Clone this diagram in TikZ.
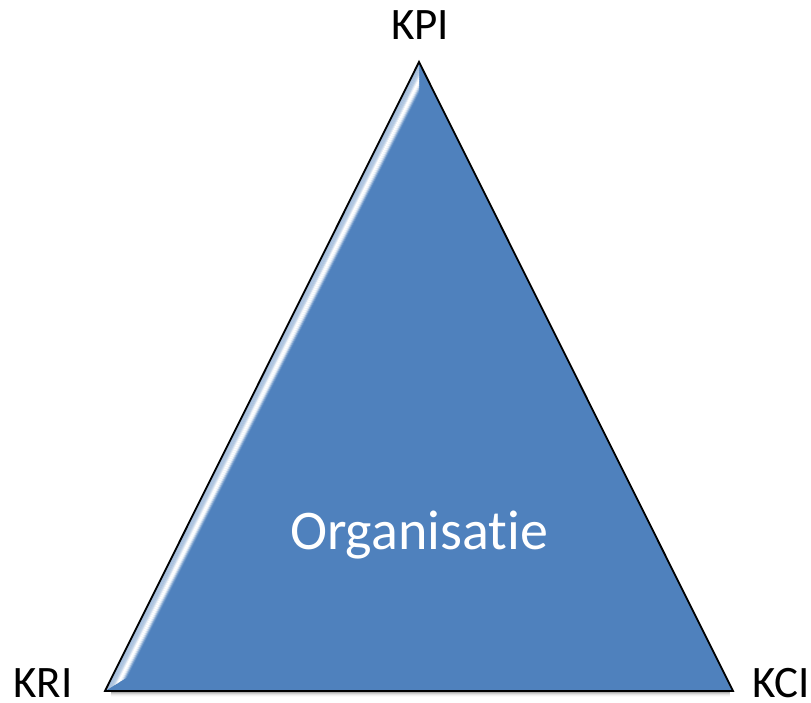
\documentclass[tikz,border=0pt]{standalone}
\usepackage{fontspec}
\setmainfont{Carlito}[Ligatures=NoCommon]
\usetikzlibrary{calc}
\definecolor{triblue}{HTML}{4F81BD}
\tikzset{
  lbl/.style={font=\fontsize{45}{50}\selectfont, text=black, inner sep=0pt, anchor=base},
  innerlbl/.style={font=\fontsize{56}{62}\selectfont, text=white, inner sep=0pt, anchor=base}
}
\begin{document}
\begin{tikzpicture}[x=1pt,y=1pt]
\useasboundingbox (0,0) rectangle (811,703);
% corners (y = 703 - pixel y)
\coordinate (A) at (419,641);
\coordinate (L) at (105,12);
\coordinate (R) at (733,12);
% inner bevel corners
\coordinate (Ai) at (419,610);
\coordinate (Li) at (127.6,26);
% shadow under the base
\foreach \o/\op in {1/0.22,2/0.15,3/0.10,4/0.06,5/0.035,6/0.02}{
  \fill[black, opacity=\op] ($(L)+(6,-\o)$) -- ($(R)+(-3,-\o)$) -- ($(R)+(-3,0)$) -- ($(L)+(6,0)$) -- cycle;
}
% triangle body
\fill[triblue] (A) -- (R) -- (L) -- cycle;
% bevel on the left face
\begin{scope}
  \clip (A) -- (Ai) -- (Li) -- (L) -- cycle;
  \foreach \t/\c in {0/60,1/55,2/50,3/45,4/45,5/40,6/30,7/12,8/0,9/0,10/5,11/22,12/50,13/78,14/95,15/100}{
    \draw[line width=1.3pt, triblue!\c!white] ($(A)!\t pt!90:(L)$) -- ($(L)!\t pt!-90:(A)$);
  }
\end{scope}
% outline
\draw[black, line width=1.8pt, line join=miter] (A) -- (R) -- (L) -- cycle;
% labels
\node[lbl] (kpi) at (420,663) {KPI};
\node[lbl] (kri) at (43,5) {KRI};
\node[lbl] (kci) at (781,5) {KCI};
\node[innerlbl] (org) at (419,153) {Organisatie};
\end{tikzpicture}
\end{document}
